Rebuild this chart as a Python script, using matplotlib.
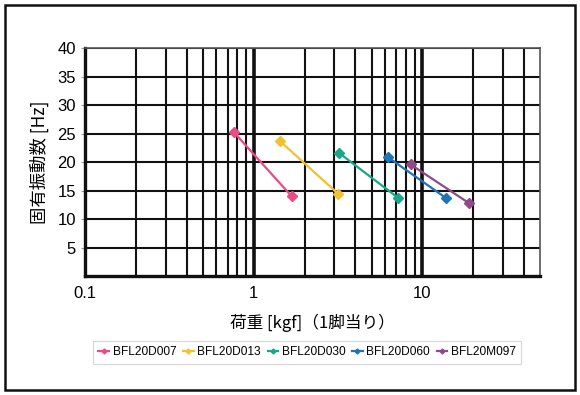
import numpy as np
import matplotlib
matplotlib.use("Agg")
import matplotlib.pyplot as plt
from matplotlib.patches import Rectangle

plt.rcParams['font.family'] = ['Liberation Sans', 'Noto Sans CJK JP', 'DejaVu Sans']

models = ["BFL20D007", "BFL20D013", "BFL20D030", "BFL20D060", "BFL20M097"]
colors = ["#ea4a86", "#f0c132", "#17a887", "#1f74b8", "#8f4a88"]
load_kgf = [[0.76, 1.68], [1.43, 3.18], [3.21, 7.2], [6.22, 13.8], [8.5, 18.9]]
freq_hz = [[25.3, 14.0], [23.7, 14.4], [21.6, 13.7], [20.9, 13.7], [19.6, 12.8]]
yticks = [5, 10, 15, 20, 25, 30, 35, 40]

fig = plt.figure(figsize=(5.8, 3.95), dpi=100)
fig.patches.append(Rectangle((0.009, 0.012), 0.982, 0.975, transform=fig.transFigure,
                             fill=False, ec="#111111", lw=1.8))
ax = fig.add_axes([0.1466, 0.301, 0.785, 0.577])
ax.set_xscale("log")
ax.set_xlim(0.1, 50)
ax.set_ylim(0, 40)

# grid: minor decades, thicker at 1 and 10
for dec in [0.1, 1, 10]:
    for k in range(2, 10):
        v = dec * k
        if v < 50:
            ax.axvline(v, color="#111111", lw=1.5, zorder=1)
for v in [1, 10]:
    ax.axvline(v, color="#111111", lw=2.6, zorder=1)
for y in yticks:
    ax.axhline(y, color="#111111", lw=1.5, zorder=1)

for name, c, xs, ys in zip(models, colors, load_kgf, freq_hz):
    ax.plot(xs, ys, "-D", color=c, lw=1.6, ms=5, label=name, zorder=3)

ax.set_yticks(yticks)
ax.set_xticks([0.1, 1, 10])
ax.set_xticklabels(["0.1", "1", "10"])
ax.minorticks_off()
ax.tick_params(axis="both", labelsize=12, length=3, color="#999999")
ax.tick_params(axis="x", pad=7, length=0)
for s in ["left", "bottom"]:
    ax.spines[s].set_linewidth(2.4)
    ax.spines[s].set_color("#111111")
for s in ["top", "right"]:
    ax.spines[s].set_linewidth(1.2)
    ax.spines[s].set_color("#555555")

ax.set_ylabel("固有振動数 [Hz]", fontsize=12.5, labelpad=6,
              family=['Noto Sans CJK JP', 'DejaVu Sans'])
ax.set_xlabel("荷重 [kgf]（1脚当り）", fontsize=12, labelpad=9,
              family=['Noto Sans CJK JP', 'DejaVu Sans'])

leg = ax.legend(loc="upper center", bbox_to_anchor=(0.488, -0.285), ncol=5,
                fontsize=8.6, frameon=True, fancybox=False, handlelength=0.9,
                handletextpad=0.3, columnspacing=0.55, markerscale=0.5,
                borderpad=0.45, borderaxespad=0)
leg.get_frame().set_edgecolor("#cccccc")
leg.get_frame().set_linewidth(0.8)

fig.savefig("out.png", dpi=100)
